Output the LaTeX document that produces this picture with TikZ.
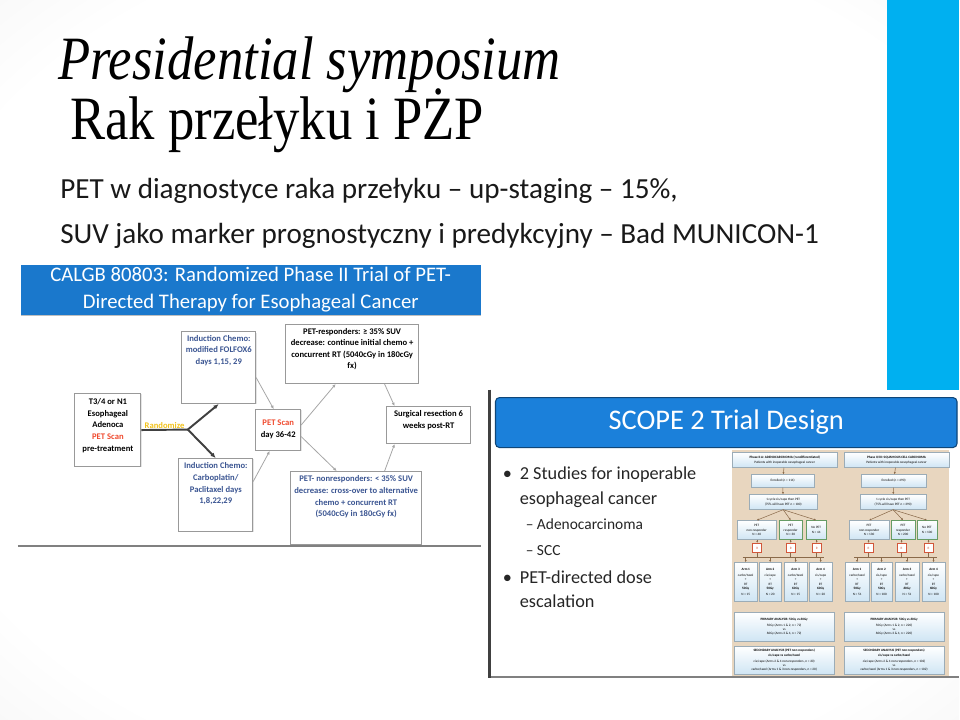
\documentclass[tikz,border=0pt]{standalone}
\usepackage{fontspec}
\setmainfont{Carlito}
\newfontfamily\titlefont{Liberation Serif}
\usetikzlibrary{positioning,arrows.meta,calc,shadows}
\definecolor{slidebar}{HTML}{00B0F0}
\definecolor{hdrblue}{HTML}{1A78CC}
\definecolor{scopeblue}{HTML}{1B80DA}
\definecolor{boxtext}{HTML}{3B5592}
\definecolor{petred}{HTML}{F04A2E}
\definecolor{randyellow}{HTML}{F2C21B}
\definecolor{tanbg}{HTML}{E8D6BF}
\definecolor{paleblue}{HTML}{CFE5F4}
\definecolor{armred}{HTML}{D2573A}
\definecolor{minibrown}{HTML}{8A6A4A}
\pgfdeclareradialshading{slidevignette}{\pgfpoint{0bp}{0bp}}{color(0bp)=(white); color(30bp)=(white); color(70bp)=(black!17)}
\newcommand{\pxu}{0.02cm}
\newcommand{\tinyfs}{\fontsize{1.9}{2.4}\selectfont}

\begin{document}
\begin{tikzpicture}[
  x=0.02cm, y=-0.02cm,
  titletext/.style={inner sep=0pt, yscale=1.17, font=\titlefont\fontsize{30}{34}\selectfont},
  bodytext/.style={inner sep=0pt, text=black!90, font=\fontsize{16.6}{19}\selectfont},
  hdrtext/.style={fill=hdrblue, text=white, align=center, inner sep=0pt,
    font=\fontsize{11.8}{15.3}\selectfont,
    drop shadow={shadow xshift=0pt, shadow yshift=-1pt, opacity=0.5}},
  flowbox/.style={draw=black!40, fill=white, line width=0.5pt, inner sep=0pt,
    drop shadow={shadow xshift=0.5pt, shadow yshift=-0.5pt, opacity=0.2}},
  flowtext/.style={align=center, inner sep=0pt, font=\fontsize{4.9}{6.6}\selectfont\bfseries},
  mainline/.style={draw=black!75, line width=1.1pt},
  thinarrow/.style={draw=black!35, line width=0.45pt, -{Latex[length=2pt,width=1.8pt]}},
  scopehdr/.style={fill=scopeblue, draw=scopeblue!55!black, line width=0.6pt,
    rounded corners=0.08cm, text=white, inner sep=0pt, font=\fontsize{16.2}{18}\selectfont},
  bullettext/.style={inner sep=0pt, text=black!85, font=\fontsize{10.4}{12}\selectfont},
  subtext/.style={inner sep=0pt, text=black!85, font=\fontsize{8.8}{10}\selectfont},
  minibox/.style={draw=black!25!paleblue, top color=white, bottom color=paleblue,
    line width=0.25pt, inner sep=0pt, align=center, font=\tinyfs},
  groupbox/.style={minibox, draw=green!35!black!60, line width=0.35pt},
  rbox/.style={draw=armred, fill=white, line width=0.6pt, inner sep=0pt,
    minimum width=9*\pxu, minimum height=9*\pxu, font=\tinyfs, text=armred},
  miniline/.style={draw=minibrown, line width=0.3pt},
  miniarrow/.style={miniline, -{Latex[length=1.2pt,width=1.2pt]}}
]
% slide background
\shade[shading=slidevignette] (0,0) rectangle (960,720);
\fill[slidebar] (888,0) rectangle (960,390);

% slide titles
\node[titletext, anchor=base west] (title1) at (58,80) {\itshape Presidential symposium};
\node[titletext, anchor=base west] (title2) at (70,140) {Rak przełyku i PŻP};
\node[bodytext, anchor=base west] (line1) at (60,199) {PET w diagnostyce raka przełyku – up-staging – 15\%,};
\node[bodytext, anchor=base west] (line2) at (60,244) {SUV jako marker prognostyczny i predykcyjny – Bad MUNICON-1};

% ---- CALGB 80803 picture ----
\fill[white] (18,262) rectangle (482,548);
\node[hdrtext, minimum width=460*\pxu, minimum height=50*\pxu] (calgbhdr) at (251,290)
  {CALGB 80803: Randomized Phase II Trial of PET-\\Directed Therapy for Esophageal Cancer};
\draw[black!50, line width=0.04cm] (18,547) -- (481,547);

\node[flowbox, minimum width=66*\pxu, minimum height=73*\pxu] (t34) at (108,430.5) {};
\node[flowtext] (t34txt) at (108,426) {T3/4 or N1\\Esophageal\\Adenoca\\\textcolor{petred}{PET Scan}\\pre-treatment};
\node[flowbox, minimum width=74*\pxu, minimum height=72*\pxu] (indtop) at (219,368) {};
\node[flowtext, text=boxtext, anchor=north] (indtoptxt) at (219,335) {Induction Chemo:\\modified FOLFOX6\\days 1,15, 29};
\node[flowbox, minimum width=74*\pxu, minimum height=73*\pxu] (indbot) at (216,495.5) {};
\node[flowtext, text=boxtext, anchor=north] (indbottxt) at (216,463) {Induction Chemo:\\Carboplatin/\\Paclitaxel days\\1,8,22,29};
\node[flowbox, minimum width=45*\pxu, minimum height=41*\pxu] (pet) at (278.5,430.5) {};
\node[flowtext] (pettxt) at (278.5,430) {\textcolor{petred}{PET Scan}\\day 36-42};
\node[flowbox, minimum width=133*\pxu, minimum height=59*\pxu] (resp) at (352.5,354.5) {};
\node[flowtext, anchor=north] (resptxt) at (352.5,328) {PET-responders: ≥ 35\% SUV\\decrease: continue initial chemo +\\concurrent RT (5040cGy in 180cGy\\fx)};
\node[flowbox, minimum width=84*\pxu, minimum height=37*\pxu] (surg) at (429,425.5) {};
\node[flowtext, anchor=north] (surgtxt) at (429,411) {Surgical resection 6\\weeks post-RT};
\node[flowbox, minimum width=131*\pxu, minimum height=73*\pxu] (nonresp) at (356.5,508.5) {};
\node[flowtext, text=boxtext, anchor=north] (nonresptxt) at (356.5,476) {PET- nonresponders: < 35\% SUV\\decrease: cross-over to alternative\\chemo + concurrent RT\\(5040cGy in 180cGy fx)};

% randomisation split
\coordinate (split) at (188,430);
\draw[mainline] (t34.east) -- node[anchor=south, inner sep=0.3pt, text=randyellow,
  font=\fontsize{4.9}{6}\selectfont\bfseries] (randtxt) {Randomize} (split);
\draw[mainline, -{Latex[length=3pt,width=2.5pt]}] (split) -- (indtop.south);
\draw[mainline, -{Latex[length=3pt,width=2.5pt]}] (split) -- (indbot.north);

% flow after induction
\draw[thinarrow] ([yshift=-0.2cm]indtop.east) -- ([xshift=-0.09cm]pet.north);
\draw[thinarrow] ([yshift=0.27cm]indbot.east) -- ([xshift=-0.17cm]pet.south);
\draw[thinarrow] ([yshift=0.1cm]pet.east) -- ([xshift=-0.33cm]resp.south);
\draw[thinarrow] ([yshift=-0.13cm]pet.east) -- ([xshift=-0.39cm]nonresp.north);
\draw[thinarrow] ([xshift=0.65cm]resp.south) -- ([xshift=-0.68cm]surg.north);
\draw[thinarrow] ([xshift=0.57cm]nonresp.north) -- ([xshift=-0.68cm]surg.south);

% ---- SCOPE 2 picture ----
\fill[white] (488,390) rectangle (960,679);
\draw[black!50, line width=0.04cm] (490,678) -- (960,678);
\draw[black!75, line width=0.05cm] (490,390) -- (490,679);
\node[scopehdr, minimum width=462*\pxu, minimum height=50*\pxu] (scopehdr) at (727,423) {SCOPE 2 Trial Design};

\node[bullettext, anchor=base west] (dot1) at (503,480) {•};
\node[bullettext, anchor=base west] (b1a) at (520,480) {2 Studies for inoperable};
\node[bullettext, anchor=base west] (b1b) at (520,505) {esophageal cancer};
\node[subtext, anchor=base west] (s1) at (526,530) {– Adenocarcinoma};
\node[subtext, anchor=base west] (s2) at (526,556) {– SCC};
\node[bullettext, anchor=base west] (dot2) at (503,584) {•};
\node[bullettext, anchor=base west] (b2a) at (520,584) {PET-directed dose};
\node[bullettext, anchor=base west] (b2b) at (520,608) {escalation};

% small trial chart
\fill[tanbg] (733,450) rectangle (950,677);
% adenocarcinoma column
\node[minibox, minimum width=105*\pxu, minimum height=15*\pxu] (hdrL) at (785.5,460.5) {\textbf{Phase II-A: ADENOCARCINOMA (+undifferentiated)}\\Patients with inoperable oesophageal cancer};
\node[minibox, minimum width=63*\pxu, minimum height=13*\pxu] (enrL) at (783.5,481.5) {Enrolled (n = 114)};
\node[minibox, minimum width=68*\pxu, minimum height=15*\pxu] (cycL) at (784,502.5) {1 cycle cis/cape then PET\\(75\% will have PET n = 100)};
\node[minibox, minimum width=39*\pxu, minimum height=19*\pxu] (grpL1) at (757.5,530.5) {PET\\non-responder\\N = 40};
\node[groupbox, minimum width=23*\pxu, minimum height=19*\pxu] (grpL2) at (791.5,530.5) {PET\\responder\\N = 30};
\node[groupbox, minimum width=20*\pxu, minimum height=19*\pxu] (grpL3) at (817,530.5) {No PET\\N = 44};
\node[rbox] (rL1) at (758,548.5) {R};
\node[rbox] (rL2) at (791.5,548.5) {R};
\node[rbox] (rL3) at (817.5,548.5) {R};
\node[minibox, minimum width=23*\pxu, minimum height=39*\pxu] (armL1) at (746.5,582.5) {\textbf{Arm 1}\\[1pt]carbo/taxol\\+\\RT\\\textbf{50Gy}\\[1pt]N = 15};
\node[minibox, minimum width=22*\pxu, minimum height=39*\pxu] (armL2) at (771,582.5) {\textbf{Arm 2}\\[1pt]cis/cape\\+\\RT\\\textbf{50Gy}\\[1pt]N = 20};
\node[minibox, minimum width=23*\pxu, minimum height=39*\pxu] (armL3) at (796.5,582.5) {\textbf{Arm 3}\\[1pt]carbo/taxol\\+\\RT\\\textbf{60Gy}\\[1pt]N = 15};
\node[minibox, minimum width=23*\pxu, minimum height=39*\pxu] (armL4) at (821.5,582.5) {\textbf{Arm 4}\\[1pt]cis/cape\\+\\RT\\\textbf{60Gy}\\[1pt]N = 20};
\node[minibox, minimum width=100*\pxu, minimum height=29*\pxu] (primL) at (785,627.5) {\textbf{PRIMARY ANALYSIS: 50Gy vs 60Gy}\\[1pt]50Gy (Arms 1 \& 2, n = 72)\\vs\\60Gy (Arms 3 \& 4, n = 72)};
\node[minibox, minimum width=100*\pxu, minimum height=28*\pxu] (secL) at (785,661) {\textbf{SECONDARY ANALYSIS (PET non-responders)}\\\textbf{cis/cape vs carbo/taxol}\\[1pt]cis/cape (Arms 2 \& 4 non-responders, n = 20)\\vs\\carbo/taxol (Arms 1 \& 3 non-responders, n = 20)};
% squamous cell column
\node[minibox, minimum width=105*\pxu, minimum height=15*\pxu] (hdrR) at (897.5,460.5) {\textbf{Phase II/III: SQUAMOUS CELL CARCINOMA}\\Patients with inoperable oesophageal cancer};
\node[minibox, minimum width=65*\pxu, minimum height=13*\pxu] (enrR) at (894.5,481.5) {Enrolled (n = 490)};
\node[minibox, minimum width=66*\pxu, minimum height=15*\pxu] (cycR) at (894,502.5) {1 cycle cis/cape then PET\\(75\% will have PET n = 390)};
\node[minibox, minimum width=40*\pxu, minimum height=19*\pxu] (grpR1) at (870,530.5) {PET\\non-responder\\N = 130};
\node[groupbox, minimum width=24*\pxu, minimum height=19*\pxu] (grpR2) at (904,530.5) {PET\\responder\\N = 200};
\node[groupbox, minimum width=20*\pxu, minimum height=19*\pxu] (grpR3) at (928,530.5) {No PET\\N = 100};
\node[rbox] (rR1) at (869.5,548.5) {R};
\node[rbox] (rR2) at (902.5,548.5) {R};
\node[rbox] (rR3) at (929.5,548.5) {R};
\node[minibox, minimum width=24*\pxu, minimum height=39*\pxu] (armR1) at (858,582.5) {\textbf{Arm 1}\\[1pt]carbo/taxol\\+\\RT\\\textbf{50Gy}\\[1pt]N = 51};
\node[minibox, minimum width=21*\pxu, minimum height=39*\pxu] (armR2) at (882.5,582.5) {\textbf{Arm 2}\\[1pt]cis/cape\\+\\RT\\\textbf{50Gy}\\[1pt]N = 100};
\node[minibox, minimum width=24*\pxu, minimum height=39*\pxu] (armR3) at (908,582.5) {\textbf{Arm 3}\\[1pt]carbo/taxol\\+\\RT\\\textbf{60Gy}\\[1pt]N = 51};
\node[minibox, minimum width=23*\pxu, minimum height=39*\pxu] (armR4) at (934.5,582.5) {\textbf{Arm 4}\\[1pt]cis/cape\\+\\RT\\\textbf{60Gy}\\[1pt]N = 100};
\node[minibox, minimum width=100*\pxu, minimum height=29*\pxu] (primR) at (895,627.5) {\textbf{PRIMARY ANALYSIS: 50Gy vs 60Gy}\\[1pt]50Gy (Arms 1 \& 2, n = 220)\\vs\\60Gy (Arms 3 \& 4, n = 220)};
\node[minibox, minimum width=100*\pxu, minimum height=28*\pxu] (secR) at (895,661) {\textbf{SECONDARY ANALYSIS (PET non-responders)}\\\textbf{cis/cape vs carbo/taxol}\\[1pt]cis/cape (Arms 2 \& 4 non-responders, n = 102)\\vs\\carbo/taxol (Arms 1 \& 3 non-responders, n = 102)};

% small chart connectors
\coordinate (busL) at (785,558);
\coordinate (busR) at (896,558);
\foreach \c in {L,R} {
  \draw[miniarrow] (hdr\c) -- (enr\c);
  \draw[miniarrow] (enr\c) -- (cyc\c);
  \foreach \k in {1,2,3} {
    \draw[miniarrow] (cyc\c.south) -- (grp\c\k.north);
    \draw[miniarrow] (grp\c\k.south -| r\c\k) -- (r\c\k.north);
    \draw[miniline] (r\c\k.south) -- (r\c\k.south |- bus\c);
  }
  \draw[miniline] ([xshift=-0.06cm]arm\c1.north |- bus\c) -- ([xshift=0.06cm]arm\c4.north |- bus\c);
  \foreach \k in {1,2,3,4}
    \draw[miniarrow] (arm\c\k.north |- bus\c) -- (arm\c\k.north);
}
\end{tikzpicture}
\end{document}
